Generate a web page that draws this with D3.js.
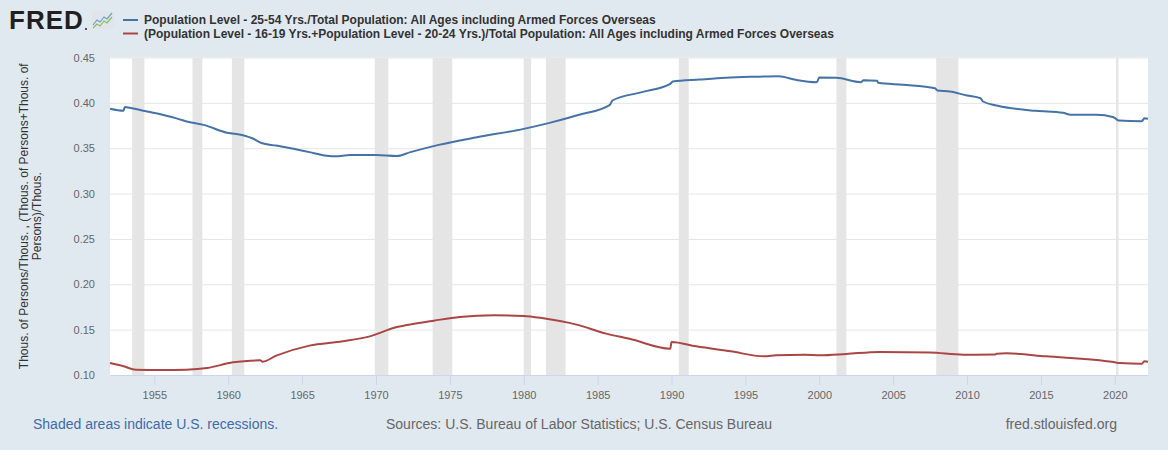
<!DOCTYPE html>
<html>
<head>
<meta charset="utf-8">
<script src="https://cdn.jsdelivr.net/npm/d3@7"></script>
<style>
  body { margin: 0; background: #e1e9f0; }
  svg { display: block; font-family: "Liberation Sans", Arial, sans-serif; }
</style>
</head>
<body>
<script>
// series 1: 25-54 / total population
var blueDates = ["1952-01","1952-12","1953-01","1953-05","1954-04","1955-06","1956-07","1957-06","1958-05","1959-12",
  "1961-01","1961-09","1962-04","1963-04","1964-06","1965-07","1966-09","1967-04","1968-04","1970-01",
  "1971-06","1972-05","1974-04","1976-11","1980-01","1981-10","1983-10","1985-11","1986-01","1988-01",
  "1989-12","1990-02","1991-12","1993-09","1995-05","1997-04","1998-06","1999-11","2000-01","2001-03",
  "2002-11","2003-01","2003-12","2004-01","2005-09","2007-11","2008-01","2008-11","2010-01","2010-12",
  "2011-02","2012-01","2014-09","2016-07","2017-01","2018-10","2019-12","2020-04","2021-11","2022-01","2022-04"];
var blueValues = [0.3936,0.3914,0.3954,0.3946,0.3914,0.3875,0.3829,0.3786,0.3757,0.3671,
  0.3643,0.3607,0.3557,0.3529,0.3493,0.3457,0.3418,0.3411,0.3425,0.3425,
  0.3414,0.3457,0.3537,0.3621,0.3713,0.3779,0.3868,0.3978,0.4026,0.4118,
  0.4210,0.4235,0.4257,0.4276,0.4287,0.4294,0.4254,0.4228,0.4279,0.4276,
  0.4228,0.4250,0.4243,0.4221,0.4199,0.4162,0.4136,0.4125,0.4081,0.4051,
  0.4015,0.3971,0.3912,0.3890,0.3868,0.3868,0.3842,0.3805,0.3798,0.3831,0.3824];

// series 2: (16-19 + 20-24) / total population
var redDates = ["1952-01","1952-12","1953-10","1955-06","1957-03","1958-08","1960-05","1961-07","1962-03","1962-05",
  "1963-04","1965-07","1967-10","1969-08","1971-06","1972-01","1973-12","1975-09","1978-01","1980-01",
  "1981-05","1983-08","1985-08","1987-03","1989-12","1990-01","1991-09","1994-01","1996-04","1997-02",
  "1999-01","2000-02","2001-11","2004-02","2007-07","2009-10","2011-12","2012-01","2012-09","2015-05",
  "2019-12","2020-05","2021-11","2022-01","2022-04"];
var redValues = [0.1132,0.1096,0.1059,0.1055,0.1059,0.1077,0.1140,0.1158,0.1162,0.1147,
  0.1213,0.1324,0.1371,0.1426,0.1529,0.1548,0.1599,0.1640,0.1658,0.1651,
  0.1625,0.1555,0.1456,0.1399,0.1290,0.1364,0.1316,0.1261,0.1206,0.1217,
  0.1224,0.1217,0.1232,0.1254,0.1247,0.1224,0.1226,0.1235,0.1239,0.1206,
  0.1143,0.1132,0.1125,0.1151,0.1147];

// NBER recessions
var recessionStarts = ["1953-07","1957-08","1960-04","1969-12","1973-11","1980-01","1981-07","1990-07","2001-03","2007-12","2020-02"];
var recessionEnds   = ["1954-05","1958-04","1961-02","1970-11","1975-03","1980-07","1982-11","1991-03","2001-11","2009-06","2020-04"];

var yTicks = [0.10, 0.15, 0.20, 0.25, 0.30, 0.35, 0.40, 0.45];
var xTicks = [1955,1960,1965,1970,1975,1980,1985,1990,1995,2000,2005,2010,2015,2020];

var legendLabels = [
  "Population Level - 25-54 Yrs./Total Population: All Ages including Armed Forces Overseas",
  "(Population Level - 16-19 Yrs.+Population Level - 20-24 Yrs.)/Total Population: All Ages including Armed Forces Overseas"
];
var colors = ["#4572a7", "#aa4643"];

var W = 1168, H = 450;
var plot = {left: 110, right: 1148, top: 57.5, bottom: 375};
var parse = d3.timeParse("%Y-%m");

var x = d3.scaleTime()
    .domain([parse("1952-01"), parse("2022-04")])
    .range([plot.left, plot.right]);
var y = d3.scaleLinear()
    .domain([0.10, 0.45])
    .range([plot.bottom, plot.top]);

var svg = d3.select("body").append("svg")
    .attr("width", W)
    .attr("height", H);

svg.append("rect").attr("width", W).attr("height", H).attr("fill", "#e1e9f0");

// plot background
svg.append("rect")
    .attr("x", plot.left).attr("y", plot.top)
    .attr("width", plot.right - plot.left).attr("height", plot.bottom - plot.top)
    .attr("fill", "#ffffff");

// recession bands
svg.append("g").selectAll("rect")
    .data(recessionStarts.map(function(s, i) { return {s: parse(s), e: parse(recessionEnds[i])}; }))
    .enter().append("rect")
    .attr("x", function(d) { return x(d.s); })
    .attr("width", function(d) { return Math.max(2, x(d.e) - x(d.s)); })
    .attr("y", plot.top)
    .attr("height", plot.bottom - plot.top)
    .attr("fill", "#e5e5e5");

// y grid + labels
var yAxis = svg.append("g")
    .attr("transform", "translate(" + plot.left + ",0)")
    .call(d3.axisLeft(y).tickValues(yTicks).tickSize(-(plot.right - plot.left)).tickPadding(15)
        .tickFormat(d3.format(".2f")));
yAxis.select(".domain").remove();
yAxis.selectAll(".tick line").attr("stroke", "#e6e6e6");
yAxis.selectAll(".tick").filter(function(d) { return d === 0.10; }).select("line").remove();
yAxis.selectAll(".tick text")
    .attr("fill", "#666666")
    .style("font-size", "11px")
    .style("font-family", "Liberation Sans, Arial, sans-serif");

// x axis
var xAxis = svg.append("g")
    .attr("transform", "translate(0," + plot.bottom + ")")
    .call(d3.axisBottom(x)
        .tickValues(xTicks.map(function(t) { return new Date(t, 0, 1); }))
        .tickSize(10).tickPadding(6).tickSizeOuter(0)
        .tickFormat(d3.timeFormat("%Y")));
xAxis.select(".domain").attr("stroke", "#ccd6eb");
xAxis.selectAll(".tick line").attr("stroke", "#ccd6eb");
xAxis.selectAll(".tick text")
    .attr("fill", "#666666")
    .style("font-size", "11px")
    .style("font-family", "Liberation Sans, Arial, sans-serif");

// lines
var line = d3.line()
    .x(function(d) { return x(d.date); })
    .y(function(d) { return y(d.value); })
    .curve(d3.curveMonotoneX);

var series = [
  blueDates.map(function(d, i) { return {date: parse(d), value: blueValues[i]}; }),
  redDates.map(function(d, i) { return {date: parse(d), value: redValues[i]}; })
];

svg.append("g").selectAll("path")
    .data(series)
    .enter().append("path")
    .attr("d", line)
    .attr("fill", "none")
    .attr("stroke", function(d, i) { return colors[i]; })
    .attr("stroke-width", 2)
    .attr("stroke-linejoin", "round");

// y axis title
svg.append("text")
    .attr("transform", "translate(24," + ((plot.top + plot.bottom) / 2) + ") rotate(-90)")
    .attr("text-anchor", "middle")
    .attr("fill", "#333333")
    .style("font-size", "12px")
    .selectAll("tspan")
    .data(["Thous. of Persons/Thous. , (Thous. of Persons+Thous. of", "Persons)/Thous."])
    .enter().append("tspan")
    .attr("x", 0)
    .attr("dy", function(d, i) { return i === 0 ? "0.35em" : 13; })
    .text(function(d) { return d; });

// legend
var legend = svg.append("g").selectAll("g")
    .data(legendLabels)
    .enter().append("g")
    .attr("transform", function(d, i) { return "translate(123," + (20 + i * 13.5) + ")"; });
legend.append("line")
    .attr("x1", 0).attr("x2", 15)
    .attr("stroke", function(d, i) { return colors[i]; })
    .attr("stroke-width", 2);
legend.append("text")
    .attr("x", 21)
    .attr("dy", "0.35em")
    .attr("fill", "#333333")
    .style("font-size", "12px")
    .style("font-weight", "bold")
    .text(function(d) { return d; });

// FRED logo
var logo = svg.append("g");
logo.append("text")
    .attr("x", 9).attr("y", 29)
    .attr("fill", "#231f20")
    .style("font-size", "26px")
    .style("font-weight", "bold")
    .style("letter-spacing", "1px")
    .text("FRED");
logo.append("circle").attr("cx", 86).attr("cy", 29).attr("r", 1).attr("fill", "#231f20");
logo.append("rect")
    .attr("x", 92).attr("y", 11).attr("width", 22).attr("height", 18).attr("rx", 2)
    .attr("fill", "#dfe5ea");
logo.append("path")
    .attr("d", "M93,25 L97,20 L100,22 L104,17 L107,19 L112,13")
    .attr("fill", "none").attr("stroke", "#6f9fc8").attr("stroke-width", 1.2);
logo.append("path")
    .attr("d", "M93,28 L97,24 L100,26 L104,21 L107,23 L112,17")
    .attr("fill", "none").attr("stroke", "#8cbf5a").attr("stroke-width", 1.2);

// footer
var footer = svg.append("g").style("font-size", "14px");
footer.append("text")
    .attr("x", 33).attr("y", 429)
    .attr("fill", "#3e6ba8")
    .text("Shaded areas indicate U.S. recessions.");
footer.append("text")
    .attr("x", 386).attr("y", 429)
    .attr("fill", "#666666")
    .text("Sources: U.S. Bureau of Labor Statistics; U.S. Census Bureau");
footer.append("text")
    .attr("x", 1117).attr("y", 429)
    .attr("text-anchor", "end")
    .attr("fill", "#666666")
    .text("fred.stlouisfed.org");
</script>
</body>
</html>
